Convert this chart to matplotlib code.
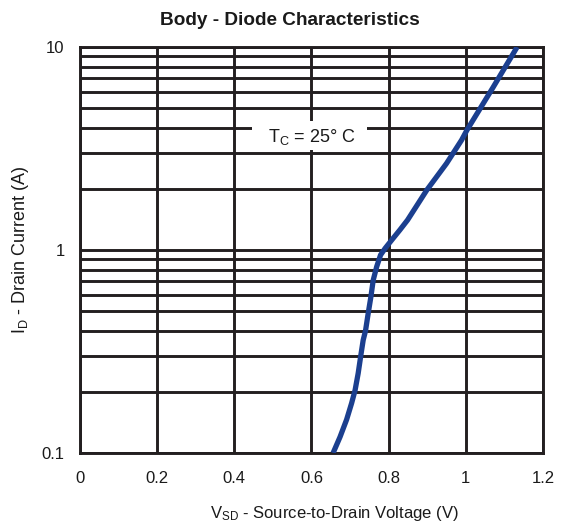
import matplotlib.pyplot as plt
from matplotlib.patches import Rectangle
from matplotlib.ticker import FixedLocator, NullFormatter

plt.rcParams["font.family"] = ["Liberation Sans", "DejaVu Sans"]
plt.rcParams["mathtext.fontset"] = "custom"
plt.rcParams["mathtext.rm"] = "Liberation Sans"
plt.rcParams["mathtext.it"] = "Liberation Sans:italic"

# body-diode forward curve at Tc = 25 C
vsd = [0.656, 0.674, 0.691, 0.704, 0.713, 0.721, 0.728, 0.734, 0.740, 0.747,
       0.754, 0.760, 0.769, 0.779, 0.791, 0.808, 0.829, 0.849, 0.899, 0.950,
       0.989, 1.003, 1.070, 1.133]
i_d = [0.100, 0.120, 0.146, 0.176, 0.204, 0.247, 0.304, 0.360, 0.400, 0.488,
       0.589, 0.711, 0.828, 0.945, 1.020, 1.120, 1.255, 1.405, 1.976, 2.670,
       3.480, 3.900, 6.300, 10.00]

x_ticks = [0, 0.2, 0.4, 0.6, 0.8, 1.0, 1.2]
x_labels = ["0", "0.2", "0.4", "0.6", "0.8", "1", "1.2"]
y_ticks = [0.1, 1, 10]
y_labels = ["0.1", "1", "10"]
y_minor = [0.2, 0.3, 0.4, 0.5, 0.6, 0.7, 0.8, 0.9, 2, 3, 4, 5, 6, 7, 8, 9]

grid_color = "#231f20"
grid_lw = 2.1
text_color = "#1a1a1a"

fig = plt.figure(figsize=(5.68, 5.30), dpi=100)
ax = fig.add_axes([0.1408, 0.1453, 0.8152, 0.766])

ax.set_yscale("log")
ax.set_xlim(0, 1.2)
ax.set_ylim(0.1, 10)
ax.set_xticks(x_ticks)
ax.set_xticklabels(x_labels)
ax.set_yticks(y_ticks)
ax.set_yticklabels(y_labels)
ax.yaxis.set_minor_locator(FixedLocator(y_minor))
ax.yaxis.set_minor_formatter(NullFormatter())
ax.tick_params(which="both", length=0, labelsize=12, colors=text_color)
ax.tick_params(axis="x", pad=13)
ax.tick_params(axis="y", pad=11)

ax.grid(True, which="both", axis="y", color=grid_color, lw=grid_lw)
ax.grid(True, which="major", axis="x", color=grid_color, lw=grid_lw)
ax.set_axisbelow(True)
for s in ax.spines.values():
    s.set_color(grid_color)
    s.set_linewidth(grid_lw)

ax.plot(vsd, i_d, color="#1b3f8f", lw=3.8, solid_capstyle="butt", zorder=3)

# white patch behind the temperature label, cutting the grid
ax.add_patch(Rectangle((0.446, 3.1), 0.298, 1.22, fc="white", ec="none", zorder=2.5))
ax.text(0.6, 3.6, r"T$_\mathrm{C}$ = 25° C", ha="center", va="center", fontsize=13,
        color=text_color, zorder=4)

ax.set_title("Body - Diode Characteristics", fontsize=13.7, fontweight="bold",
             color=text_color, pad=16, x=0.454)
ax.set_xlabel(r"V$_\mathrm{SD}$ - Source-to-Drain Voltage (V)", fontsize=12,
              color=text_color)
ax.xaxis.set_label_coords(0.55, -0.125)
ax.set_ylabel(r"I$_\mathrm{D}$ - Drain Current (A)", fontsize=13,
              color=text_color)
ax.yaxis.set_label_coords(-0.105, 0.5)

fig.savefig("out.png", dpi=100)
